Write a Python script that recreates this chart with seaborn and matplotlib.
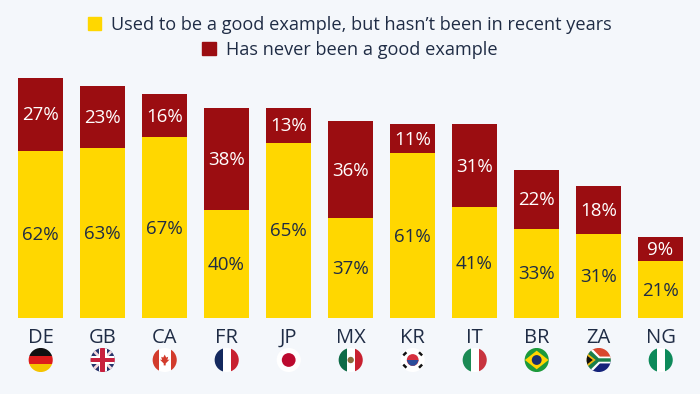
import numpy as np
import pandas as pd
import matplotlib
matplotlib.use("Agg")
import matplotlib.pyplot as plt
from matplotlib.patches import Circle, Rectangle, Polygon
import seaborn as sns

countries = ["DE", "GB", "CA", "FR", "JP", "MX", "KR", "IT", "BR", "ZA", "NG"]
used_to_be = [62, 63, 67, 40, 65, 37, 61, 41, 33, 31, 21]
never = [27, 23, 16, 38, 13, 36, 11, 31, 22, 18, 9]
label_used = "Used to be a good example, but hasn\u2019t been in recent years"
label_never = "Has never been a good example"

BG = "#F4F7FB"
YELLOW = "#FFD700"
RED = "#9B0D11"
INK = "#1F2C45"

sns.set_theme(style="white")
plt.rcParams["font.family"] = ["Open Sans", "DejaVu Sans"]

W, H = 700, 394
fig = plt.figure(figsize=(W / 100, H / 100), dpi=100, facecolor=BG)
left, right, top, bottom = 9.5, 691.5, 69.5, 318.0
ax = fig.add_axes([left / W, 1 - bottom / H, (right - left) / W, (bottom - top) / H])
ax.set_facecolor("none")

df = pd.DataFrame({"country": countries, "used": used_to_be, "never": never})
bw = 45 / 62
sns.barplot(data=df, x="country", y="used", color=YELLOW, saturation=1, width=bw, ax=ax, linewidth=0)
sns.barplot(data=df, x="country", y="never", bottom=df["used"], color=RED, saturation=1, width=bw, ax=ax, linewidth=0)

ax.set_xlim(-0.5, len(countries) - 0.5)
ax.set_ylim(0, (bottom - top) / 2.697)
ax.set_xlabel("")
ax.set_ylabel("")
ax.set_yticks([])
ax.tick_params(axis="x", length=0, pad=7, labelsize=14.5, labelcolor=INK)
for s in ax.spines.values():
    s.set_visible(False)

for i, (a, b) in enumerate(zip(used_to_be, never)):
    ax.annotate(f"{a}%", (i, a / 2), xytext=(0, -0.7), textcoords="offset points", ha="center", va="center",
                fontsize=13.5, color=INK, fontweight="medium")
    ax.annotate(f"{b}%", (i, a + b / 2), xytext=(0, -0.7), textcoords="offset points", ha="center", va="center",
                fontsize=13.5, color="white", fontweight="medium")

# legend: two centred rows
h1 = Rectangle((0, 0), 1, 1, color=YELLOW)
h2 = Rectangle((0, 0), 1, 1, color=RED)
for handle, lab, yy in [(h1, label_used, 25.0), (h2, label_never, 50.0)]:
    fig.legend([handle], [lab], loc="center", bbox_to_anchor=(0.5, 1 - yy / H), frameon=False,
               fontsize=13.05, labelcolor=INK, handlelength=0.75, handleheight=0.75,
               handletextpad=0.55, borderpad=0, borderaxespad=0)

# flags
def vstripes(c1, c2, c3, w=1 / 3):
    yield Rectangle((0, 0), w, 1, fc=c1)
    yield Rectangle((w, 0), 1 - 2 * w, 1, fc=c2)
    yield Rectangle((1 - w, 0), w, 1, fc=c3)
def flag_de(a):
    for y, c in [(0, "#F5C400"), (1 / 3, "#DD1C1C"), (2 / 3, "#111111")]:
        yield Rectangle((0, y), 1, 1 / 3, fc=c)
def flag_gb(a):
    yield Rectangle((0, 0), 1, 1, fc="#27336B")
    for p in [[(0, .08), (.08, 0), (1, .92), (.92, 1)], [(0, .92), (.08, 1), (1, .08), (.92, 0)]]:
        yield Polygon(p, fc="#F3D9DF")
    yield Rectangle((.33, 0), .34, 1, fc="white")
    yield Rectangle((0, .33), 1, .34, fc="white")
    yield Rectangle((.41, 0), .18, 1, fc="#C8203E")
    yield Rectangle((0, .41), 1, .18, fc="#C8203E")
def flag_ca(a):
    yield from vstripes("#D23B2C", "white", "#D23B2C", 0.25)
    yield Polygon([(.5, .72), (.56, .6), (.64, .63), (.61, .5), (.7, .52), (.54, .36),
                   (.54, .28), (.46, .28), (.46, .36), (.3, .52), (.39, .5), (.36, .63), (.44, .6)],
                  fc="#D23B2C")
def flag_fr(a):
    yield from vstripes("#14295E", "white", "#C8202F")
def flag_jp(a):
    yield Rectangle((0, 0), 1, 1, fc="white")
    yield Circle((.5, .5), .28, fc="#BC0A2F")
def flag_mx(a):
    yield from vstripes("#0E6B47", "white", "#C8202F")
    yield Circle((.5, .5), .13, fc="#8A6B3A")
def flag_kr(a):
    yield Rectangle((0, 0), 1, 1, fc="white")
    yield Circle((.5, .5), .24, fc="#D6303F")
    yield Polygon([(.26, .5), (.74, .5), (.68, .36), (.58, .27), (.42, .27), (.32, .36)], fc="#2A4C9B")
    for (x, y), ang in [((.18, .75), 45), ((.82, .75), -45), ((.18, .25), -45), ((.82, .25), 45)]:
        yield Rectangle((x - .09, y - .05), .18, .1, angle=ang, rotation_point="center", fc="#111111")
def flag_it(a):
    yield from vstripes("#1B8A54", "white", "#C8343F")
def flag_br(a):
    yield Rectangle((0, 0), 1, 1, fc="#1C9A3B")
    yield Polygon([(.02, .5), (.5, .88), (.98, .5), (.5, .12)], fc="#FFD400")
    yield Circle((.5, .5), .2, fc="#17306E")
def flag_za(a):
    yield Rectangle((0, .5), 1, .5, fc="#D9472F")
    yield Rectangle((0, 0), 1, .5, fc="#14237A")
    yield Polygon([(0, 1), (.2, 1), (.55, .64), (1, .64), (1, .36), (.55, .36), (.2, 0), (0, 0)], fc="white")
    yield Polygon([(0, .96), (.1, .96), (.5, .57), (1, .57), (1, .43), (.5, .43), (.1, .04), (0, .04)], fc="#1A7F4A")
    yield Polygon([(0, .8), (.38, .5), (0, .2)], fc="#F2B90F")
    yield Polygon([(0, .7), (.26, .5), (0, .3)], fc="#111111")
def flag_ng(a):
    yield from vstripes("#0E8A5A", "white", "#0E8A5A")

flags = [flag_de, flag_gb, flag_ca, flag_fr, flag_jp, flag_mx, flag_kr, flag_it, flag_br, flag_za, flag_ng]
fy, fr = 360, 12.3
for i, f in enumerate(flags):
    cx = 40.7 + i * 62
    fa = fig.add_axes([(cx - fr) / W, 1 - (fy + fr) / H, 2 * fr / W, 2 * fr / H])
    fa.set_xlim(0, 1); fa.set_ylim(0, 1); fa.axis("off")
    clip = Circle((.5, .5), .49, transform=fa.transData)
    for p in f(fa):
        p.set_linewidth(0)
        fa.add_patch(p)
        p.set_clip_path(clip)

fig.savefig("out.png", dpi=100, facecolor=BG)
